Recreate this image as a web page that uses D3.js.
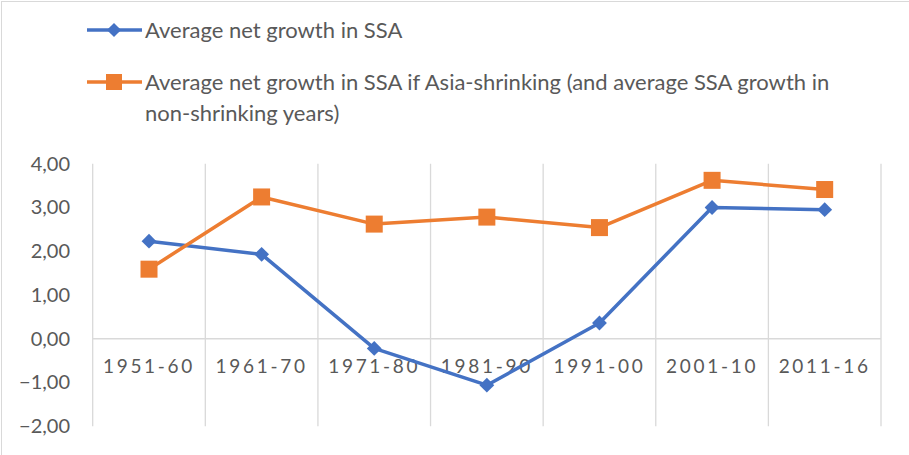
<!DOCTYPE html>
<html>
<head>
<meta charset="utf-8">
<script src="https://cdn.jsdelivr.net/npm/d3@7"></script>
<style>
  body { margin: 0; background: #fff; }
  text { font-family: Lato, "Liberation Sans", sans-serif; fill: #595959; }
</style>
</head>
<body>
<div class="chart"></div>
<script>
// data
var categories = ["1951-60", "1961-70", "1971-80", "1981-90", "1991-00", "2001-10", "2011-16"];
var ssaGrowth = [2.23, 1.93, -0.22, -1.06, 0.36, 3.00, 2.95];
var ssaIfAsiaShrinking = [1.59, 3.24, 2.62, 2.78, 2.54, 3.62, 3.41];
var yTicks = [-2, -1, 0, 1, 2, 3, 4];
var seriesNames = [
    "Average net growth in SSA",
    "Average net growth in SSA if Asia-shrinking (and average SSA growth in",
    "non-shrinking years)"
];

var width = 909, height = 455;
var blue = "#4472c4", orange = "#ed7d31", grid = "#d9d9d9";

var svg = d3.select(".chart").append("svg")
    .attr("width", width)
    .attr("height", height);

// outer frame
svg.append("rect")
    .attr("x", 1.5).attr("y", 1.5)
    .attr("width", width + 10).attr("height", height + 10)
    .attr("fill", "none").attr("stroke", grid);

//////// scales
var x = d3.scaleBand().domain(categories).range([92.7, 881]);
var y = d3.scaleLinear().domain([-2, 4]).range([426.3, 163.7]);

// vertical gridlines between categories
var edges = categories.map(function(c) { return x(c); }).concat([x.range()[1]]);
svg.selectAll(".vgrid").data(edges).enter().append("line")
    .attr("x1", function(d) { return d; }).attr("x2", function(d) { return d; })
    .attr("y1", y(4)).attr("y2", y(-2))
    .attr("stroke", grid).attr("stroke-width", 1.3);

// zero axis
svg.append("line")
    .attr("x1", x.range()[0]).attr("x2", x.range()[1])
    .attr("y1", y(0)).attr("y2", y(0))
    .attr("stroke", grid).attr("stroke-width", 1.3);

// y axis labels
var yAxis = d3.axisLeft(y).tickValues(yTicks).tickSize(0).tickPadding(0)
    .tickFormat(function(d) { return d3.format(".2f")(d).replace(".", ","); });
var yg = svg.append("g").attr("transform", "translate(70,0)").call(yAxis);
yg.select(".domain").remove();
yg.selectAll("text").attr("font-size", 20).attr("fill", "#595959")
    .style("font-family", "Lato, 'Liberation Sans', sans-serif");

// x labels under the zero line
var xAxis = d3.axisBottom(x).tickSize(0).tickPadding(0);
var xg = svg.append("g").attr("transform", "translate(0," + (y(0) + 27.5) + ")").call(xAxis);
xg.select(".domain").remove();
xg.selectAll("text").attr("font-size", 19).attr("fill", "#595959")
    .attr("y", 0).attr("dy", "0.35em")
    .style("letter-spacing", "2.7px")
    .style("font-family", "Lato, 'Liberation Sans', sans-serif");

//////// lines
var line = d3.line()
    .x(function(d, i) { return x(categories[i]) + x.bandwidth() / 2; })
    .y(function(d) { return y(d); });

function drawSeries(values, color) {
    svg.append("path")
        .datum(values)
        .attr("d", line)
        .attr("fill", "none")
        .attr("stroke", color)
        .attr("stroke-width", 3.5)
        .attr("stroke-linejoin", "round");
}
drawSeries(ssaGrowth, blue);
drawSeries(ssaIfAsiaShrinking, orange);

var diamond = d3.symbol().type(d3.symbolSquare).size(110);
svg.selectAll(".dia").data(ssaGrowth).enter().append("path")
    .attr("d", diamond)
    .attr("transform", function(d, i) {
        return "translate(" + (x(categories[i]) + x.bandwidth() / 2) + "," + y(d) + ") rotate(45)";
    })
    .attr("fill", blue);

svg.selectAll(".sq").data(ssaIfAsiaShrinking).enter().append("rect")
    .attr("x", function(d, i) { return x(categories[i]) + x.bandwidth() / 2 - 8.5; })
    .attr("y", function(d) { return y(d) - 8.5; })
    .attr("width", 17).attr("height", 17)
    .attr("fill", orange);

//////// legend
function legendKey(cy, color, square) {
    svg.append("line")
        .attr("x1", 87).attr("x2", 142).attr("y1", cy).attr("y2", cy)
        .attr("stroke", color).attr("stroke-width", 3.5);
    if (square) {
        svg.append("rect").attr("x", 106).attr("y", cy - 8).attr("width", 16).attr("height", 16)
            .attr("fill", color);
    } else {
        svg.append("path").attr("d", d3.symbol().type(d3.symbolSquare).size(100))
            .attr("transform", "translate(114," + cy + ") rotate(45)")
            .attr("fill", color);
    }
}
legendKey(30, blue, false);
legendKey(82, orange, true);

var legendText = [[seriesNames[0], 30], [seriesNames[1], 82], [seriesNames[2], 113]];
svg.selectAll(".leg").data(legendText).enter().append("text")
    .attr("x", 145)
    .attr("y", function(d) { return d[1]; })
    .attr("dy", "0.35em")
    .attr("font-size", 22)
    .text(function(d) { return d[0]; });
</script>
</body>
</html>
